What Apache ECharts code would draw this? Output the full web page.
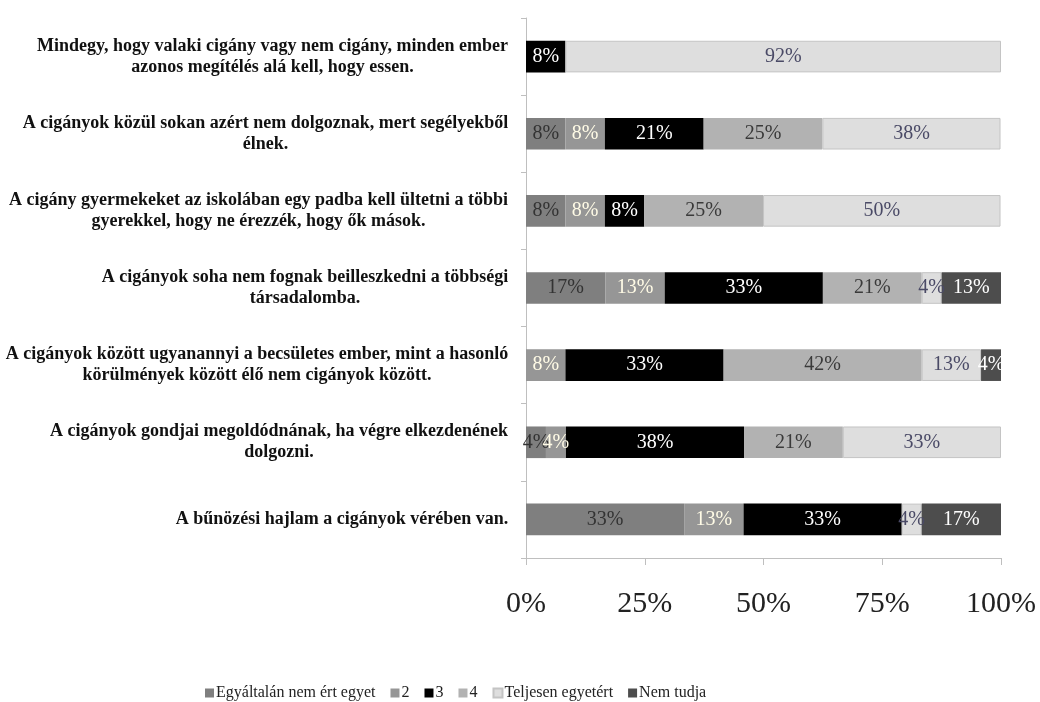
<!DOCTYPE html>
<html>
<head>
<meta charset="utf-8">
<script src="https://cdn.jsdelivr.net/npm/echarts@6/dist/echarts.min.js"></script>
<style>html,body{margin:0;padding:0;background:#fff}#c{width:1040px;height:702px}</style>
</head>
<body>
<div id="c"></div>
<script>
// Category labels (lines as broken in the reference)
const categories = [
  ["Mindegy, hogy valaki cigány vagy nem cigány, minden ember", "azonos megítélés alá kell, hogy essen."],
  ["A cigányok közül sokan azért nem dolgoznak, mert segélyekből", "élnek."],
  ["A cigány gyermekeket az iskolában egy padba kell ültetni a többi", "gyerekkel, hogy ne érezzék, hogy ők mások."],
  ["A cigányok soha nem fognak beilleszkedni a többségi", "társadalomba."],
  ["A cigányok között ugyanannyi a becsületes ember, mint a hasonló", "körülmények között élő nem cigányok között."],
  ["A cigányok gondjai megoldódnának, ha végre elkezdenének", "dolgozni."],
  ["A bűnözési hajlam a cigányok vérében van."]
];
const seriesNames = ["Egyáltalán nem ért egyet", "2", "3", "4", "Teljesen egyetért", "Nem tudja"];
// shares in percent (labels are shown rounded)
const s1 = [null, 8.3, 8.3, 16.7, null, 4.2, 33.3];
const s2 = [null, 8.3, 8.3, 12.5, 8.3, 4.2, 12.5];
const s3 = [8.3, 20.8, 8.3, 33.3, 33.3, 37.5, 33.3];
const s4 = [null, 25, 25, 20.8, 41.7, 20.8, null];
const s5 = [91.7, 37.5, 50, 4.2, 12.5, 33.3, 4.2];
const s6 = [null, null, null, 12.5, 4.2, null, 16.7];
const xTicks = [0, 25, 50, 75, 100];

const colors = ["#7f7f7f", "#969696", "#000000", "#b2b2b2", "#dedede", "#4d4d4d"];
const labelColors = ["#333333", "#fffbe6", "#ffffff", "#3a3a3a", "#4a4a66", "#ffffff"];
const values = [s1, s2, s3, s4, s5, s6];

const FONT = '"Liberation Serif", "Times New Roman", serif';
const labelSize = 18;
const cv = document.createElement('canvas').getContext('2d');
cv.font = 'bold ' + labelSize + 'px ' + FONT;
const rich = {};
categories.forEach((lines, i) => {
  const w = Math.max(...lines.map(l => cv.measureText(l).width));
  rich['r' + i] = {width: Math.ceil(w) + 1, align: 'center', fontWeight: 'bold', fontSize: labelSize,
    fontFamily: FONT, color: '#111', lineHeight: 21};
});
const catKeys = categories.map((_, i) => String(i));

const chart = echarts.init(document.getElementById('c'));
chart.setOption({
  animation: false,
  textStyle: {fontFamily: FONT},
  grid: {left: 526, right: 39, top: 18, bottom: 144, containLabel: false},
  legend: {
    top: 680, left: 200,
    itemWidth: 9, itemHeight: 9, itemGap: 15,
    icon: 'rect',
    textStyle: {fontFamily: FONT, fontSize: 16, color: '#222', padding: [0, 0, 0, -3]},
    data: seriesNames
  },
  xAxis: {
    type: 'value', min: 0, max: 100, interval: 25,
    axisLine: {show: true, lineStyle: {color: '#bfbfbf'}},
    axisTick: {show: true, length: 7, lineStyle: {color: '#bfbfbf'}},
    splitLine: {show: false},
    axisLabel: {fontSize: 30, color: '#222', fontFamily: FONT, margin: 31,
      formatter: v => xTicks.includes(v) ? v + '%' : ''}
  },
  yAxis: {
    type: 'category', inverse: true, data: catKeys,
    axisLine: {show: true, lineStyle: {color: '#bfbfbf'}},
    axisTick: {show: true, length: 5, inside: false, lineStyle: {color: '#bfbfbf'}},
    axisLabel: {
      margin: 17, align: 'right',
      formatter: (v) => categories[+v].map(l => '{r' + v + '|' + l + '}').join('\n'),
      rich: rich
    }
  },
  series: seriesNames.map((n, k) => ({
    name: n, type: 'bar', stack: 'all', barWidth: '41%',
    data: values[k],
    itemStyle: {color: colors[k], borderColor: k === 4 ? '#c4c4c4' : 'rgba(0,0,0,0)', borderWidth: k === 4 ? 1 : 0},
    label: {show: true, position: 'inside', fontFamily: FONT, fontSize: 20, color: labelColors[k],
      formatter: p => p.value == null ? '' : Math.round(p.value) + '%'}
  }))
});
</script>
</body>
</html>
